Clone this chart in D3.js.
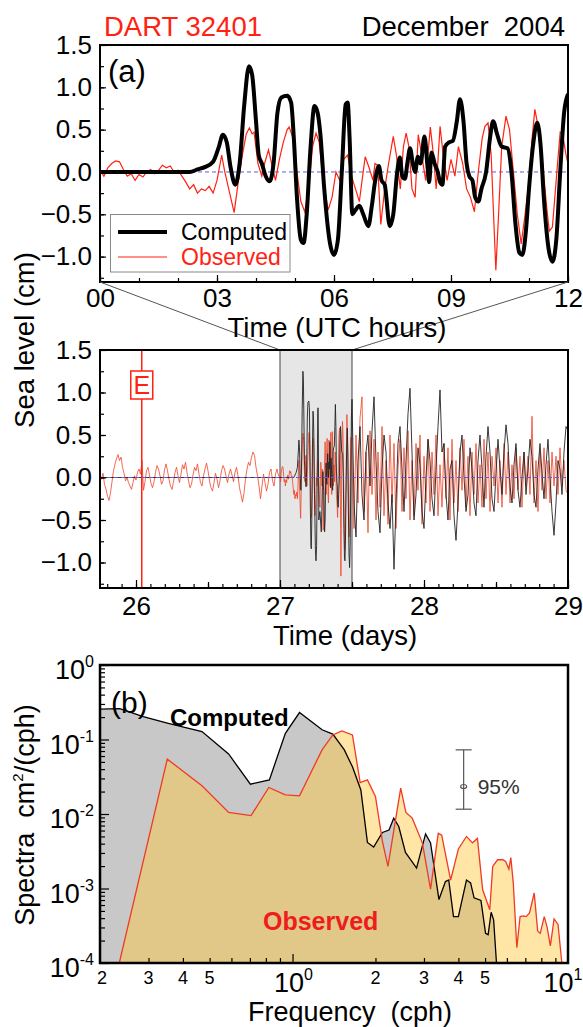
<!DOCTYPE html>
<html>
<head>
<meta charset="utf-8">
<script src="https://cdn.jsdelivr.net/npm/d3@7"></script>
<style>
  body { margin: 0; background: #fff; }
  svg { font-family: "Liberation Sans", Arial, sans-serif; }
</style>
</head>
<body>
<div id="chart"></div>
<script>
// ---- panel (a): 27 Dec 2004, 00-12 UTC hours ----
const compZoomH = [0, 2.3, 2.5, 2.7, 2.9, 3.05, 3.15, 3.25, 3.35, 3.47, 3.58, 3.7, 3.82, 3.9, 4.0, 4.07, 4.15, 4.25, 4.35, 4.45,
  4.55, 4.65, 4.8, 4.9, 4.97, 5.05, 5.15, 5.22, 5.3, 5.4, 5.5, 5.58, 5.65, 5.75, 5.9, 6.0, 6.1, 6.2, 6.3, 6.35,
  6.4, 6.47, 6.55, 6.65, 6.75, 6.88, 6.97, 7.05, 7.15, 7.22, 7.3, 7.43, 7.52, 7.62, 7.69, 7.75, 7.82, 7.88, 7.95, 8.02,
  8.08, 8.15, 8.22, 8.32, 8.4, 8.44, 8.5, 8.58, 8.66, 8.72, 8.78, 8.85, 8.95, 9.05, 9.15, 9.23, 9.32, 9.4, 9.47, 9.55,
  9.62, 9.7, 9.78, 9.9, 10.0, 10.08, 10.18, 10.3, 10.45, 10.55, 10.65, 10.75, 10.83, 10.92, 11.0, 11.1, 11.21, 11.3, 11.38, 11.5,
  11.6, 11.7, 11.8, 11.9, 12.0];
const compZoomV = [0, 0, 0.03, 0.06, 0.12, 0.3, 0.44, 0.35, 0.05, -0.15, 0.1, 0.8, 1.25, 1.15, 0.6, 0.2, 0.1, -0.05, -0.11, 0.1,
  0.7, 0.88, 0.9, 0.82, 0.4, -0.3, -0.8, -0.84, -0.5, 0.3, 0.78, 0.7, 0.45, -0.2, -0.85, -0.98, -0.8, 0.0, 0.8, 0.82,
  0.4, -0.5, -0.45, -0.4, -0.5, -0.64, -0.4, -0.12, 0.07, -0.1, -0.15, -0.64, -0.5, 0.0, 0.17, -0.05, -0.08, 0.1, 0.28, 0.1,
  0.0, 0.18, 0.1, 0.42, 0.05, -0.12, 0.23, 0.1, 0.0, -0.12, -0.15, 0.3, 0.35, 0.37, 0.6, 0.86, 0.6, 0.1, -0.05, -0.1,
  -0.3, -0.35, -0.2, 0.0, 0.4, 0.6, 0.45, 0.3, 0.28, 0.0, -0.6, -0.95, -0.98, -0.7, -0.2, 0.3, 0.58, 0.3, -0.3, -0.9,
  -1.06, -0.8, 0.0, 0.7, 0.92];

const obsZoomH = [0, 0.1, 0.2, 0.3, 0.4, 0.5, 0.6, 0.7, 0.8, 0.9, 1.0, 1.1, 1.2, 1.3, 1.4, 1.5, 1.6, 1.7, 1.8, 1.9,
  2.0, 2.1, 2.2, 2.3, 2.4, 2.5, 2.6, 2.7, 2.8, 2.9, 3.0, 3.12, 3.2, 3.3, 3.44, 3.55, 3.65, 3.75, 3.83, 3.9,
  3.95, 4.05, 4.15, 4.22, 4.32, 4.4, 4.5, 4.6, 4.7, 4.8, 4.85, 4.95, 5.05, 5.15, 5.25, 5.35, 5.45, 5.54, 5.62, 5.72,
  5.85, 5.95, 6.05, 6.15, 6.25, 6.35, 6.45, 6.55, 6.65, 6.72, 6.8, 6.9, 7.0, 7.05, 7.12, 7.2, 7.3, 7.4, 7.52, 7.6,
  7.7, 7.78, 7.85, 7.92, 8.0, 8.08, 8.16, 8.25, 8.35, 8.47, 8.55, 8.62, 8.72, 8.8, 8.9, 9.0, 9.1, 9.19, 9.3, 9.4,
  9.5, 9.6, 9.7, 9.8, 9.87, 9.95, 10.03, 10.1, 10.15, 10.22, 10.3, 10.41, 10.5, 10.6, 10.7, 10.8, 10.9, 11.0, 11.08, 11.15,
  11.25, 11.35, 11.45, 11.52, 11.6, 11.68, 11.75, 11.8, 11.86, 11.95, 12.0];
const obsZoomV = [0.02, -0.05, 0.05, 0.1, 0.13, 0.12, 0.03, -0.05, -0.02, -0.1, -0.03, -0.06, 0.0, 0.03, -0.02, 0.02, 0.08, 0.05, 0.07, 0.0,
  0.02, -0.05, -0.12, -0.2, -0.15, -0.25, -0.2, -0.22, -0.17, -0.25, -0.1, 0.2, 0.0, -0.2, -0.48, -0.1, 0.2, 0.45, 0.52, 0.45,
  0.47, 0.1, -0.05, 0.1, 0.26, 0.1, -0.1, 0.15, 0.35, 0.5, 0.53, 0.4, 0.0, -0.35, -0.47, -0.2, 0.3, 0.46, 0.35, -0.1,
  -0.45, -0.3, 0.0, -0.1, 0.15, 0.2, -0.05, -0.2, -0.35, -0.1, 0.18, 0.05, -0.1, 0.1, 0.08, -0.62, -0.2, 0.1, 0.42, 0.2,
  -0.2, 0.3, 0.46, 0.3, -0.2, -0.3, 0.44, 0.2, -0.1, 0.53, 0.2, -0.2, 0.54, 0.2, -0.1, 0.15, -0.05, 0.3, 0.1, -0.2,
  -0.3, -0.47, 0.0, 0.4, 0.54, 0.58, 0.2, -0.6, -1.16, -0.5, 0.3, 0.66, 0.5, 0.0, -0.5, -0.85, -0.5, -0.1, 0.4, 0.74,
  0.5, 0.1, -0.4, -0.7, -0.65, -0.2, 0.2, 0.47, 0.45, 0.2, 0.1];

// ---- middle panel: 25.75 - 29 December (days) ----
const preStart = 25.75, preStep = 1 / 96;      // 15-min samples up to 27.0
const obsPreV = [0.04, -0.02, 0.05, -0.08, -0.14, -0.22, -0.27, -0.18, -0.05, 0.08, 0.16, 0.22,
  0.27, 0.2, 0.24, 0.12, 0.05, -0.04, 0.0, -0.06,
  -0.1, -0.14, -0.06, 0.02, -0.03, 0.06, 0.1, 0.04,
  0.2, -0.15, -0.05, 0.08, 0.12, 0.03, -0.07, -0.12,
  -0.05, 0.06, 0.14, 0.1, 0.02, -0.08, -0.04, 0.09,
  0.16, 0.08, -0.02, -0.1, -0.14, -0.05, 0.06, 0.12,
  0.02, -0.06, 0.04, 0.15, 0.1, 0.18, 0.06, -0.04,
  -0.12, -0.08, 0.03, 0.12, 0.08, 0.16, 0.04, -0.06,
  -0.1, 0.02, 0.1, 0.17, 0.08, -0.04, -0.12, -0.16,
  -0.06, 0.05, -0.02, -0.12, -0.04, 0.08, 0.14, 0.1,
  0.02, -0.06, 0.04, 0.1, 0.03, -0.05, 0.06, 0.12,
  0.02, -0.12, -0.2, -0.29, -0.18, -0.02, 0.1, 0.18,
  0.14, 0.24, 0.3, 0.26, 0.12, 0.02, -0.1, -0.25,
  -0.1, 0.04, -0.06, -0.16, -0.08, 0.06, 0.1, -0.04,
  -0.1, 0.04, 0.1, 0.02];

const postStart = 27.5, postStep = 1 / 72;     // 20-min samples, 27.5 - 29.0
const obsPostV = [0.1, -0.6, 0.5, -0.3, 0.7, 0.95, -0.4, 0.3, -0.65, 0.55,
  -0.2, 0.45, -0.5, 0.3, -0.35, 0.6, -0.45, 0.2, -0.55, 0.5,
  -0.3, 0.4, -0.6, 0.1, 0.45, -0.4, 0.35, -0.25, 0.55, -0.5,
  0.2, -0.45, 0.4, -0.15, 0.5, -0.55, 0.25, -0.3, 0.45, -0.4,
  0.3, -0.2, 0.5, -0.45, 0.15, -0.35, 0.4, -0.25, 0.35, -0.5,
  0.45, -0.3, 0.2, -0.4, 0.35, -0.15, 0.45, -0.35, 0.25, -0.45,
  0.3, -0.2, 0.4, -0.3, 0.15, -0.35, 0.45, -0.25, 0.3, -0.4,
  0.25, -0.1, 0.35, -0.3, 0.2, -0.35, 0.4, -0.2, 0.3, -0.3,
  0.15, -0.25, 0.35, -0.15, 0.25, -0.35, 0.3, -0.1, 0.25, -0.2,
  0.72, -0.3, 0.2, -0.4, 0.3, -0.15, 0.35, -0.25, 0.2, -0.3,
  0.3, -0.1, 0.25, -0.2, 0.35, -0.1, 0.2, -0.15, -0.2];
const compPostV = [0.4, -0.3, -0.7, 0.2, 0.6, -0.2, -0.5, 0.3, 0.5, -0.1,
  0.55, 0.95, 0.2, -0.4, -0.65, 0.1, 0.5, 0.3, -0.3, -0.6,
  -0.2, -1.08, -0.3, 0.4, 0.6, 0.1, -0.4, 0.2, 0.75, 1.05,
  0.3, -0.5, -0.2, 0.35, 0.15, -0.4, -0.6, 0.0, 0.45, 0.2,
  -0.25, -0.45, 0.1, 0.6, 1.03, 0.3, 0.4, -0.2, -0.5, 0.1,
  0.2, -0.45, -0.74, -0.3, 0.3, 0.5, 0.0, -0.4, -0.2, 0.35,
  0.1, -0.3, -0.45, 0.2, 0.5, 0.1, -0.35, 0.25, 0.6, 0.3,
  -0.25, -0.4, 0.05, 0.45, 0.1, -0.2, 0.3, 0.62, 0.4, -0.1,
  -0.3, 0.15, 0.4, -0.15, -0.35, 0.0, 0.3, -0.2, 0.1, 0.45,
  0.25, -0.2, -0.35, 0.1, 0.4, 0.05, -0.25, 0.15, 0.45, 0.0,
  -0.4, -0.68, -0.3, 0.2, 0.1, -0.2, 0.3, 0.6, 0.55];
const quakeDay = 26.04;
const zoomDays = [27.0, 27.5];

// ---- panel (b): spectra ----
const compF = [0.2, 0.236, 0.287, 0.354, 0.469, 0.586, 0.703, 0.824, 0.942, 1.06, 1.28, 1.40, 1.54, 1.65, 1.77, 1.87, 1.97, 2.12, 2.24, 2.33,
  2.43, 2.57, 2.82, 3.04, 3.17, 3.40, 3.59, 3.69, 3.84, 4.0, 4.28, 4.43, 4.56, 4.83, 5.02, 5.13, 5.26, 5.37, 5.5];
const compS = [0.255, 0.26, 0.203, 0.165, 0.128, 0.064, 0.0251, 0.0287, 0.121, 0.23, 0.135, 0.118, 0.073, 0.043, 0.021, 0.00415, 0.0036, 0.00565, 0.0061, 0.0088,
  0.0068, 0.00305, 0.00188, 0.0054, 0.0041, 0.00071, 0.00124, 0.0013, 0.00042, 0.00042, 0.0013, 0.00119, 0.00075, 0.00069, 0.00025, 0.00024, 0.00048, 0.00038, 0.0001];
const obsF = [0.2, 0.235, 0.351, 0.469, 0.586, 0.707, 0.82, 0.942, 1.06, 1.28, 1.40, 1.51, 1.65, 1.76, 1.87, 2.0, 2.12, 2.22, 2.47, 2.58,
  2.72, 2.96, 3.17, 3.38, 3.48, 3.75, 4.0, 4.28, 4.5, 4.69, 4.9, 5.2, 5.33, 5.55, 5.8, 5.94, 6.1, 6.2, 6.33, 6.52,
  6.7, 6.9, 7.05, 7.25, 7.54, 7.76, 7.93, 8.2, 8.4, 8.63, 8.9, 9.2, 9.5];
const obsS = [1e-4, 1e-4, 0.0545, 0.0239, 0.0105, 0.0095, 0.0227, 0.0181, 0.0175, 0.0726, 0.115, 0.13, 0.115, 0.0264, 0.0287, 0.0172, 0.0043, 0.00198, 0.0222, 0.0105,
  0.0088, 0.0041, 0.00098, 0.0055, 0.0052, 0.0013, 0.0034, 0.005, 0.0041, 0.0047, 0.00096, 0.00052, 0.00198, 0.00243, 0.00243, 0.0023, 0.00182, 0.0026, 0.00118, 0.00016,
  0.00042, 0.00043, 0.00042, 0.00047, 0.00087, 0.00027, 0.00025, 0.00042, 0.0003, 0.00017, 0.00039, 0.00033, 1e-4];
const ciFreq = 4.18, ciLow = 0.0116, ciMid = 0.0234, ciHigh = 0.0726;

// ---------------------------------------------------------------
const W = 583, H = 1027;
const left = 100, right = 568;
const boxA = {top: 45, bottom: 282};
const boxM = {top: 350, bottom: 588};
const boxB = {top: 665, bottom: 963};
const red = "#ff2211";
const tickFont = 26;

const svg = d3.select("#chart").append("svg")
    .attr("width", W).attr("height", H);

const xA = d3.scaleLinear().domain([0, 12]).range([left, right]);
const yA = d3.scaleLinear().domain([-1.3, 1.5]).range([boxA.bottom, boxA.top]);
const xM = d3.scaleLinear().domain([25.75, 29]).range([left, right]);
const yM = d3.scaleLinear().domain([-1.3, 1.5]).range([boxM.bottom, boxM.top]);
const xB = d3.scaleLog().domain([0.2, 10]).range([left, right]);
const yB = d3.scaleLog().domain([1e-4, 1]).range([boxB.bottom, boxB.top]);

// series
let obsZoom = obsZoomH.map((h, i) => ({h: h, t: 27 + h / 24, v: obsZoomV[i]}));
let compZoom = compZoomH.map((h, i) => ({h: h, t: 27 + h / 24, v: compZoomV[i]}));
let obsAll = obsPreV.map((v, i) => ({t: preStart + i * preStep, v: v}))
    .concat(obsZoom)
    .concat(obsPostV.slice(1).map((v, i) => ({t: postStart + (i + 1) * postStep, v: v})));
let compAll = [{t: preStart, v: 0}]
    .concat(compZoom)
    .concat(compPostV.slice(1).map((v, i) => ({t: postStart + (i + 1) * postStep, v: v})));

let defs = svg.append("defs");
[["clipA", boxA], ["clipM", boxM], ["clipB", boxB]].forEach(([id, b]) => {
    defs.append("clipPath").attr("id", id).append("rect")
        .attr("x", left).attr("y", b.top).attr("width", right - left).attr("height", b.bottom - b.top);
});

function styleAxis(g, size) {
    g.select(".domain").remove();
    g.selectAll("line").attr("stroke", "#000").attr("stroke-width", 1.2);
    g.selectAll("text").style("font-size", size + "px").attr("fill", "#000")
        .style("font-family", "'Liberation Sans', Arial, sans-serif");
}

// ===================== panel (a) =====================
let gA = svg.append("g");

gA.append("line")
    .attr("x1", left).attr("x2", right).attr("y1", yA(0)).attr("y2", yA(0))
    .attr("stroke", "#5c5ce0").attr("stroke-width", 1).attr("stroke-dasharray", "4,3");

let plotA = gA.append("g").attr("clip-path", "url(#clipA)");
plotA.append("path").datum(obsZoom)
    .attr("fill", "none").attr("stroke", red).attr("stroke-width", 1.2)
    .attr("d", d3.line().x(d => xA(d.h)).y(d => yA(d.v)));
plotA.append("path").datum(compZoom)
    .attr("fill", "none").attr("stroke", "#000").attr("stroke-width", 4).attr("stroke-linejoin", "round")
    .attr("d", d3.line().curve(d3.curveMonotoneX).x(d => xA(d.h)).y(d => yA(d.v)));

gA.append("g").attr("transform", `translate(0,${boxA.bottom})`)
    .call(d3.axisBottom(xA).tickValues(d3.range(0, 13, 1)).tickSize(-4).tickFormat(""))
    .call(g => styleAxis(g, tickFont));
gA.append("g").attr("transform", `translate(0,${boxA.bottom})`)
    .call(d3.axisBottom(xA).tickValues(d3.range(0, 13, 3)).tickSize(-7).tickPadding(7).tickFormat(d3.format("02d")))
    .call(g => styleAxis(g, tickFont));
gA.append("g").attr("transform", `translate(${left},0)`)
    .call(d3.axisLeft(yA).tickValues(d3.range(-1.25, 1.5, 0.25)).tickSize(-4).tickFormat(""))
    .call(g => styleAxis(g, tickFont));
gA.append("g").attr("transform", `translate(${left},0)`)
    .call(d3.axisLeft(yA).tickValues([-1, -0.5, 0, 0.5, 1, 1.5]).tickSize(-6).tickPadding(8).tickFormat(d3.format(".1f")))
    .call(g => styleAxis(g, tickFont));

gA.append("rect")
    .attr("x", left).attr("y", boxA.top).attr("width", right - left).attr("height", boxA.bottom - boxA.top)
    .attr("fill", "none").attr("stroke", "#000").attr("stroke-width", 2);

// legend
let legend = gA.append("g");
legend.append("rect")
    .attr("x", 110.5).attr("y", 214.5).attr("width", 179.5).attr("height", 57.5)
    .attr("fill", "#fff").attr("stroke", "#888").attr("stroke-width", 1);
legend.append("line").attr("x1", 118).attr("x2", 167).attr("y1", 232).attr("y2", 232)
    .attr("stroke", "#000").attr("stroke-width", 4);
legend.append("line").attr("x1", 118).attr("x2", 167).attr("y1", 257).attr("y2", 257)
    .attr("stroke", red).attr("stroke-width", 1.2);
legend.append("text").attr("x", 181).attr("y", 240).text("Computed")
    .style("font-size", "23px").attr("fill", "#000");
legend.append("text").attr("x", 181).attr("y", 265).text("Observed")
    .style("font-size", "23px").attr("fill", red);

gA.append("text").attr("x", 108).attr("y", 82).text("(a)").style("font-size", "31px");
svg.append("text").attr("x", 104).attr("y", 36).text("DART 32401")
    .style("font-size", "27.5px").attr("fill", red);
svg.append("text").attr("x", 565).attr("y", 36).attr("text-anchor", "end").text("December  2004")
    .style("font-size", "27.5px").style("white-space", "pre").attr("xml:space", "preserve");

// ===================== zoom connectors =====================
svg.append("g").selectAll("line")
    .data([[0, zoomDays[0]], [12, zoomDays[1]]])
    .join("line")
    .attr("x1", d => xA(d[0])).attr("y1", boxA.bottom)
    .attr("x2", d => xM(d[1])).attr("y2", boxM.top)
    .attr("stroke", "#555").attr("stroke-width", 1);

svg.append("text").attr("x", 337).attr("y", 337).attr("text-anchor", "middle")
    .text("Time (UTC hours)").style("font-size", "27.5px");

// ===================== middle panel =====================
let gM = svg.append("g");
gM.append("rect")
    .attr("x", xM(zoomDays[0])).attr("y", boxM.top)
    .attr("width", xM(zoomDays[1]) - xM(zoomDays[0])).attr("height", boxM.bottom - boxM.top)
    .attr("fill", "#e6e6e6").attr("stroke", "#444").attr("stroke-width", 1);

let plotM = gM.append("g").attr("clip-path", "url(#clipM)");
plotM.append("path").datum(obsAll)
    .attr("fill", "none").attr("stroke", "#f0452a").attr("stroke-width", 0.9).attr("stroke-opacity", 0.9)
    .attr("d", d3.line().x(d => xM(d.t)).y(d => yM(d.v)));
plotM.append("path").datum(compAll)
    .attr("fill", "none").attr("stroke", "#222").attr("stroke-width", 0.9)
    .attr("d", d3.line().x(d => xM(d.t)).y(d => yM(d.v)));
plotM.append("line")
    .attr("x1", left).attr("x2", right).attr("y1", yM(0)).attr("y2", yM(0))
    .attr("stroke", "#5c5ce0").attr("stroke-width", 1).attr("stroke-dasharray", "4,3");

// earthquake marker
gM.append("line")
    .attr("x1", xM(quakeDay)).attr("x2", xM(quakeDay)).attr("y1", boxM.top).attr("y2", boxM.bottom)
    .attr("stroke", red).attr("stroke-width", 1.5);
gM.append("rect")
    .attr("x", xM(quakeDay) - 11).attr("y", 371).attr("width", 22).attr("height", 28)
    .attr("fill", "#fff").attr("stroke", red).attr("stroke-width", 1.5);
gM.append("text").attr("x", xM(quakeDay)).attr("y", 394).attr("text-anchor", "middle")
    .text("E").style("font-size", "25px").attr("fill", red);

gM.append("g").attr("transform", `translate(0,${boxM.bottom})`)
    .call(d3.axisBottom(xM).tickValues(d3.range(258, 291).map(d => d / 10)).tickSize(-4).tickFormat(""))
    .call(g => styleAxis(g, tickFont));
gM.append("g").attr("transform", `translate(0,${boxM.bottom})`)
    .call(d3.axisBottom(xM).tickValues([26.5, 27.5, 28.5]).tickSize(-6).tickFormat(""))
    .call(g => styleAxis(g, tickFont));
gM.append("g").attr("transform", `translate(0,${boxM.bottom})`)
    .call(d3.axisBottom(xM).tickValues([26, 27, 28, 29]).tickSize(-8).tickPadding(9).tickFormat(d3.format("d")))
    .call(g => styleAxis(g, tickFont));
gM.append("g").attr("transform", `translate(${left},0)`)
    .call(d3.axisLeft(yM).tickValues(d3.range(-1.25, 1.5, 0.25)).tickSize(-4).tickFormat(""))
    .call(g => styleAxis(g, tickFont));
gM.append("g").attr("transform", `translate(${left},0)`)
    .call(d3.axisLeft(yM).tickValues([-1, -0.5, 0, 0.5, 1, 1.5]).tickSize(-6).tickPadding(8).tickFormat(d3.format(".1f")))
    .call(g => styleAxis(g, tickFont));

gM.append("rect")
    .attr("x", left).attr("y", boxM.top).attr("width", right - left).attr("height", boxM.bottom - boxM.top)
    .attr("fill", "none").attr("stroke", "#000").attr("stroke-width", 2);

svg.append("text").attr("x", 345).attr("y", 645).attr("text-anchor", "middle")
    .text("Time (days)").style("font-size", "27.5px");
svg.append("text").attr("transform", "translate(34,340) rotate(-90)").attr("text-anchor", "middle")
    .text("Sea level (cm)").style("font-size", "27.5px");

// ===================== panel (b) =====================
let gB = svg.append("g");
let compSpec = compF.map((f, i) => ({f: f, s: compS[i]}));
let obsSpec = obsF.map((f, i) => ({f: f, s: obsS[i]}));
let area = d3.area().x(d => xB(d.f)).y0(yB(1e-4)).y1(d => yB(d.s));
let line = d3.line().x(d => xB(d.f)).y(d => yB(d.s));

let plotB = gB.append("g").attr("clip-path", "url(#clipB)");
plotB.append("path").datum(compSpec).attr("fill", "#c8c8c8").attr("d", area);
plotB.append("path").datum(obsSpec).attr("fill", "rgb(255,200,60)").attr("fill-opacity", 0.45).attr("d", area);
plotB.append("path").datum(compSpec).attr("fill", "none").attr("stroke", "#000").attr("stroke-width", 1.3).attr("d", line);
plotB.append("path").datum(obsSpec).attr("fill", "none").attr("stroke", "#f03a22").attr("stroke-width", 1.3).attr("d", line);

// minor / major ticks
let xMinor = [0.3, 0.4, 0.5, 0.6, 0.7, 0.8, 0.9, 2, 3, 4, 5, 6, 7, 8, 9];
gB.append("g").attr("transform", `translate(0,${boxB.bottom})`)
    .call(d3.axisBottom(xB).tickValues(xMinor).tickSize(-5).tickFormat(""))
    .call(g => styleAxis(g, 16));
gB.append("g").attr("transform", `translate(0,${boxB.bottom})`)
    .call(d3.axisBottom(xB).tickValues([1]).tickSize(-9).tickFormat(""))
    .call(g => styleAxis(g, 16));
let yMinor = [];
[1e-4, 1e-3, 1e-2, 1e-1].forEach(dec => d3.range(2, 10).forEach(k => yMinor.push(dec * k)));
gB.append("g").attr("transform", `translate(${left},0)`)
    .call(d3.axisLeft(yB).tickValues(yMinor).tickSize(-5).tickFormat(""))
    .call(g => styleAxis(g, 16));
gB.append("g").attr("transform", `translate(${left},0)`)
    .call(d3.axisLeft(yB).tickValues([1e-4, 1e-3, 1e-2, 1e-1, 1]).tickSize(-9).tickFormat(""))
    .call(g => styleAxis(g, 16));

// small x labels
gB.append("g").selectAll("text")
    .data([0.2, 0.3, 0.4, 0.5, 2, 3, 4, 5])
    .join("text")
    .attr("x", d => xB(d) + (d === 0.2 ? 2 : 0)).attr("y", 984)
    .attr("text-anchor", "middle")
    .style("font-size", "18px")
    .text(d => d < 1 ? Math.round(d * 10) : d);

// power-of-ten labels
gB.append("g").selectAll("text")
    .data([0, 1])
    .join("text")
    .attr("x", d => d === 0 ? xB(1) + 1 : 563).attr("y", 992)
    .attr("text-anchor", "middle")
    .style("font-size", "27px")
    .each(function(d) {
        let t = d3.select(this);
        t.append("tspan").text("10");
        t.append("tspan").attr("dy", -12).style("font-size", "16px").text(d);
    });
gB.append("g").selectAll("text")
    .data([0, -1, -2, -3, -4])
    .join("text")
    .attr("x", 94).attr("y", d => yB(Math.pow(10, d)) + 14)
    .attr("text-anchor", "end")
    .style("font-size", "27px")
    .each(function(d) {
        let t = d3.select(this);
        t.append("tspan").text("10");
        t.append("tspan").attr("dy", -12).style("font-size", "16px").text(d);
    });

gB.append("rect")
    .attr("x", left).attr("y", boxB.top).attr("width", right - left).attr("height", boxB.bottom - boxB.top)
    .attr("fill", "none").attr("stroke", "#000").attr("stroke-width", 2.5);

// 95% confidence bar
let ci = gB.append("g").attr("stroke", "#555").attr("stroke-width", 1.2);
ci.append("line").attr("x1", xB(ciFreq)).attr("x2", xB(ciFreq)).attr("y1", yB(ciHigh)).attr("y2", yB(ciLow));
ci.selectAll("line.cap").data([ciHigh, ciLow]).join("line").attr("class", "cap")
    .attr("x1", xB(ciFreq) - 8).attr("x2", xB(ciFreq) + 8).attr("y1", d => yB(d)).attr("y2", d => yB(d));
ci.append("ellipse").attr("cx", xB(ciFreq)).attr("cy", yB(ciMid)).attr("rx", 3).attr("ry", 2).attr("fill", "none");
gB.append("text").attr("x", xB(ciFreq) + 14).attr("y", yB(ciMid) + 8)
    .text("95%").style("font-size", "21px").attr("fill", "#333");

gB.append("text").attr("x", 111).attr("y", 713).text("(b)").style("font-size", "30px");
gB.append("text").attr("x", 170).attr("y", 726).text("Computed")
    .style("font-size", "24px").style("font-weight", "bold").attr("fill", "#000");
gB.append("text").attr("x", 263).attr("y", 930).text("Observed")
    .style("font-size", "25px").style("font-weight", "bold").attr("fill", "#ee1c1c");

let ylab = svg.append("text").attr("transform", "translate(34,815) rotate(-90)").attr("text-anchor", "middle")
    .style("font-size", "27px");
ylab.append("tspan").attr("xml:space", "preserve").text("Spectra  cm");
ylab.append("tspan").attr("dy", -11).style("font-size", "15px").text("2");
ylab.append("tspan").attr("dy", 11).text("/(cph)");

svg.append("text").attr("x", 350).attr("y", 1021).attr("text-anchor", "middle")
    .attr("xml:space", "preserve")
    .text("Frequency  (cph)").style("font-size", "27px");
</script>
</body>
</html>
